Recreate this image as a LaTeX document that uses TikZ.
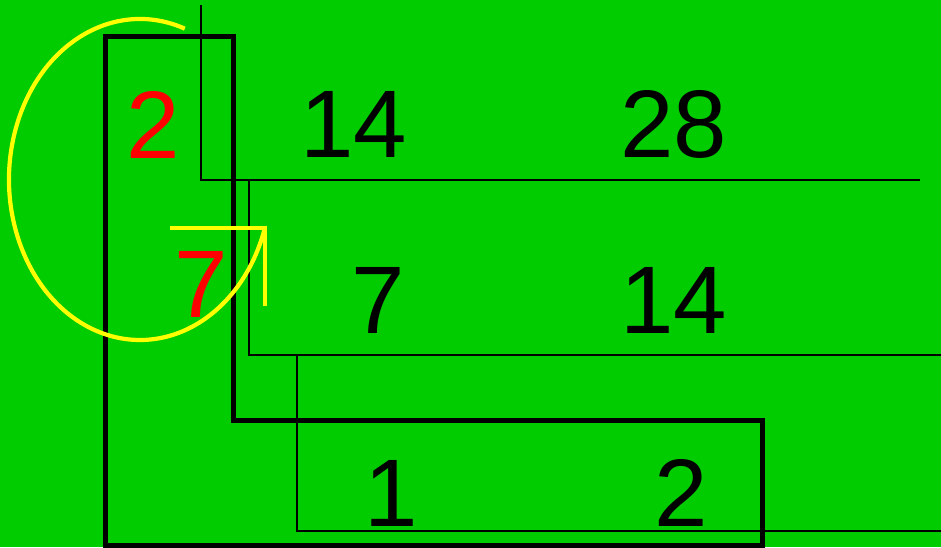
\documentclass[tikz,border=0pt]{standalone}
\usepackage{fontspec}
\setmainfont{Liberation Sans}
\definecolor{bggreen}{HTML}{00CC00}
\definecolor{ylw}{HTML}{FFFF00}
\definecolor{rd}{HTML}{FF0000}
\begin{document}
\begin{tikzpicture}[x=1pt,y=-1pt,
  num/.style={inner sep=0pt,outer sep=0pt,anchor=base,font=\fontsize{96}{96}\selectfont},
  thinline/.style={draw=black,line width=2.2pt},
  thickline/.style={draw=black,line width=5pt,line join=miter},
  yline/.style={draw=ylw,line width=4.2pt}]
\useasboundingbox (0,0) rectangle (941,547);
\fill[bggreen] (0,0) rectangle (941,547);
% thin step lines
\draw[thinline] (201,5) -- (201,180) -- (920,180);
\draw[thinline] (249,180) -- (249,355) -- (941,355);
\draw[thinline] (297,355) -- (297,531) -- (941,531);
% thick L shape
\draw[thickline] (105,545) -- (105,36) -- (233,36) -- (233,420) -- (762,420) -- (762,545) -- cycle;
% numbers
\node[num,text=rd] (a1) at (153.5,158) {2};
\node[num] (b1) at (354,157) {14};
\node[num] (c1) at (673.5,157) {28};
\node[num,text=rd] (a2) at (201.5,317) {7};
\node[num] (b2) at (378,333) {7};
\node[num] (c2) at (674,333) {14};
\node[num] (b3) at (391,526) {1};
\node[num] (c3) at (681.5,526) {2};
% yellow arc with open arrow head
\coordinate (ec) at (140,179.5);
\coordinate (tip) at (265,228);
\coordinate (hl) at (170,228);
\coordinate (vl) at (265,306);
\draw[yline] ([shift={(70:131pt and 160.5pt)}]ec) arc[start angle=70,end angle=342.4,x radius=131pt,y radius=160.5pt];
\draw[yline] (hl) -- (tip) -- (vl);
\end{tikzpicture}
\end{document}
